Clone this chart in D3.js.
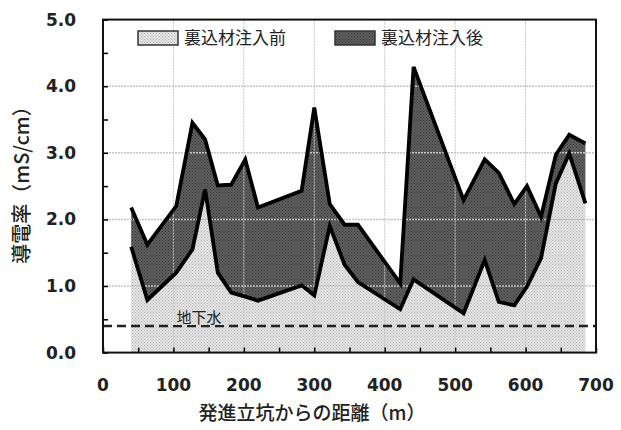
<!DOCTYPE html>
<html>
<head>
<meta charset="utf-8">
<script src="https://cdnjs.cloudflare.com/ajax/libs/d3/7.8.5/d3.min.js"></script>
<style>
  body { margin: 0; background: #fff; }
</style>
</head>
<body>
<div id="chart"></div>
<script>
// distance from launch shaft (m)
var dist = [40, 63, 104, 127, 145, 163, 182, 202, 220, 282, 300, 322, 343, 362, 422, 441, 512, 542, 562, 584, 602, 622, 643, 662, 685];
// conductivity before / after backfill injection (mS/cm)
var before = [1.59, 0.79, 1.2, 1.55, 2.45, 1.2, 0.9, 0.84, 0.78, 1.01, 0.86, 1.9, 1.32, 1.06, 0.65, 1.1, 0.59, 1.39, 0.76, 0.71, 0.99, 1.42, 2.54, 2.99, 2.24];
var after = [2.18, 1.62, 2.2, 3.45, 3.2, 2.51, 2.52, 2.9, 2.18, 2.43, 3.68, 2.23, 1.92, 1.92, 1.04, 4.29, 2.29, 2.9, 2.7, 2.23, 2.5, 2.04, 2.97, 3.27, 3.14];
var groundwater = 0.4;
var xTicks = [0, 100, 200, 300, 400, 500, 600, 700];
var yTicks = [0, 1, 2, 3, 4, 5];
var seriesNames = ["裏込材注入前", "裏込材注入後"];

var width = 621, height = 430;
var x = d3.scaleLinear().domain([0, 700]).range([103, 596]);
var y = d3.scaleLinear().domain([0, 5]).range([352.6, 19.6]);

var data = dist.map(function(d, i) { return {x: d, lo: before[i], hi: after[i]}; });

var svg = d3.select("#chart").append("svg")
    .attr("width", width)
    .attr("height", height)
    .style("font-family", "'Noto Sans CJK JP', 'DejaVu Sans', sans-serif");

// dotted fill patterns
var defs = svg.append("defs");
function makePattern(id, bg, dot) {
  var p = defs.append("pattern")
      .attr("id", id)
      .attr("width", 3).attr("height", 3)
      .attr("patternUnits", "userSpaceOnUse");
  p.append("rect").attr("width", 3).attr("height", 3).attr("fill", bg);
  p.append("rect").attr("width", 1).attr("height", 1).attr("fill", dot);
  p.append("rect").attr("x", 1.5).attr("y", 1.5).attr("width", 1).attr("height", 1).attr("fill", dot);
}
makePattern("patLight", "#e4e4e4", "#b4b4b4");
makePattern("patDark", "#5e5e5e", "#383838");

// areas
var areaLow = d3.area()
    .x(function(d) { return x(d.x); })
    .y0(y(0))
    .y1(function(d) { return y(d.lo); });
var areaHigh = d3.area()
    .x(function(d) { return x(d.x); })
    .y0(function(d) { return y(d.lo); })
    .y1(function(d) { return y(d.hi); });

svg.append("path").attr("d", areaLow(data)).attr("fill", "url(#patLight)");
svg.append("path").attr("d", areaHigh(data)).attr("fill", "url(#patDark)");

// grid lines
svg.append("g").selectAll("line")
  .data(xTicks.slice(1, -1))
  .enter().append("line")
    .attr("x1", function(d) { return x(d); })
    .attr("x2", function(d) { return x(d); })
    .attr("y1", y(5)).attr("y2", y(0))
    .attr("stroke", "#c4c4c4")
    .attr("stroke-width", 1)
    .attr("stroke-dasharray", "2,1");
svg.append("g").selectAll("line")
  .data(yTicks.slice(1, -1))
  .enter().append("line")
    .attr("y1", function(d) { return y(d); })
    .attr("y2", function(d) { return y(d); })
    .attr("x1", x(0)).attr("x2", x(700))
    .attr("stroke", "#c4c4c4")
    .attr("stroke-width", 1.5)
    .attr("stroke-dasharray", "2,1");

// groundwater level
svg.append("line")
    .attr("x1", x(0)).attr("x2", x(700))
    .attr("y1", y(groundwater)).attr("y2", y(groundwater))
    .attr("stroke", "#222")
    .attr("stroke-width", 2.5)
    .attr("stroke-dasharray", "9,5");
svg.append("rect")
    .attr("x", 172).attr("y", 311).attr("width", 54).attr("height", 14)
    .attr("fill", "url(#patLight)");
svg.append("text")
    .attr("x", 199).attr("y", 323)
    .attr("text-anchor", "middle")
    .style("font-size", "15px")
    .attr("fill", "#222")
    .text("地下水");

// lines
var lineLow = d3.line().x(function(d) { return x(d.x); }).y(function(d) { return y(d.lo); });
var lineHigh = d3.line().x(function(d) { return x(d.x); }).y(function(d) { return y(d.hi); });
[lineLow, lineHigh].forEach(function(l) {
  svg.append("path")
      .attr("d", l(data))
      .attr("fill", "none")
      .attr("stroke", "#000")
      .attr("stroke-width", 3.8)
      .attr("stroke-linejoin", "miter");
});

// axes with inward ticks
var yAxis = d3.axisRight(y).tickValues(d3.range(0, 5.01, 0.5)).tickSize(5).tickFormat("");
svg.append("g")
    .attr("transform", "translate(" + x(0) + ",0)")
    .call(yAxis)
    .call(function(g) { g.select(".domain").remove(); })
    .selectAll("line").attr("stroke", "#000").attr("stroke-width", 1.5);
var xAxis = d3.axisTop(x).tickValues(d3.range(0, 701, 50)).tickSize(5).tickFormat("");
svg.append("g")
    .attr("transform", "translate(0," + y(0) + ")")
    .call(xAxis)
    .call(function(g) { g.select(".domain").remove(); })
    .selectAll("line").attr("stroke", "#000").attr("stroke-width", 1.5);

// plot frame
svg.append("rect")
    .attr("x", x(0)).attr("y", y(5))
    .attr("width", x(700) - x(0)).attr("height", y(0) - y(5))
    .attr("fill", "none")
    .attr("stroke", "#111")
    .attr("stroke-width", 2);

// tick labels
svg.append("g").selectAll("text")
  .data(yTicks)
  .enter().append("text")
    .attr("x", 76)
    .attr("y", function(d) { return y(d) + 6; })
    .attr("text-anchor", "end")
    .style("font-family", "'DejaVu Sans', sans-serif")
    .style("font-weight", "bold")
    .style("font-size", "17px")
    .attr("fill", "#222")
    .text(function(d) { return d3.format(".1f")(d); });
svg.append("g").selectAll("text")
  .data(xTicks)
  .enter().append("text")
    .attr("x", function(d) { return x(d); })
    .attr("y", 391)
    .attr("text-anchor", "middle")
    .style("font-family", "'DejaVu Sans', sans-serif")
    .style("font-weight", "bold")
    .style("font-size", "17px")
    .attr("fill", "#222")
    .text(function(d) { return d; });

// axis titles
svg.append("text")
    .attr("x", 312).attr("y", 420)
    .attr("text-anchor", "middle")
    .style("font-size", "19px")
    .style("font-weight", "500")
    .attr("fill", "#222")
    .text("発進立坑からの距離（m）");
svg.append("text")
    .attr("transform", "translate(29,180)rotate(-90)")
    .attr("text-anchor", "middle")
    .style("font-size", "20px")
    .style("font-weight", "500")
    .attr("fill", "#222")
    .text("導電率（mS/cm）");

// legend
var legend = svg.append("g");
[["patLight", 138], ["patDark", 335]].forEach(function(p, i) {
  legend.append("rect")
      .attr("x", p[1]).attr("y", 31)
      .attr("width", 40).attr("height", 14)
      .attr("fill", "url(#" + p[0] + ")")
      .attr("stroke", "#333")
      .attr("stroke-width", 1.5);
  legend.append("text")
      .attr("x", p[1] + 46).attr("y", 44)
      .style("font-size", "17px")
      .attr("fill", "#222")
      .text(seriesNames[i]);
});
</script>
</body>
</html>
